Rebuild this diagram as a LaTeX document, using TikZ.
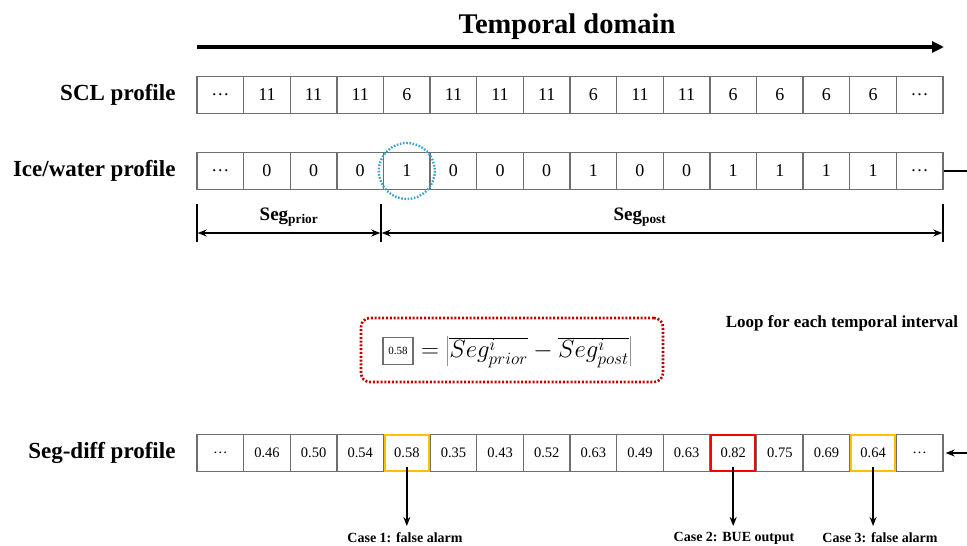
\documentclass[tikz,border=0pt]{standalone}
\usepackage{fontspec}
\setmainfont{Liberation Serif}
\usetikzlibrary{arrows.meta}
\definecolor{cellgray}{RGB}{110,110,110}
\definecolor{boxred}{RGB}{192,0,0}
\definecolor{circblue}{RGB}{60,165,205}
\definecolor{gold}{RGB}{255,192,0}
\definecolor{hired}{RGB}{255,0,0}
\begin{document}
\begin{tikzpicture}[x=1pt,y=-1pt,
  cell/.style={draw=cellgray, line width=1.3pt, minimum width=46.625pt, minimum height=37pt, inner sep=0pt, fill=white},
  rowlab/.style={anchor=east, font=\fontsize{23}{25}\selectfont\bfseries},
  valbig/.style={font=\fontsize{18}{20}\selectfont},
  valsmall/.style={font=\fontsize{14.5}{16}\selectfont},
  hilite/.style={draw=#1, line width=2pt, minimum width=44pt, minimum height=36pt, inner sep=0pt},
  caselab/.style={font=\fontsize{14}{16}\selectfont\bfseries},
  arr/.style={line width=1.6pt, -{Stealth[length=9pt,width=7pt]}},
  dimarr/.style={line width=1.4pt, {Stealth[length=9pt,width=7pt]}-{Stealth[length=9pt,width=7pt]}},
]
\useasboundingbox (0,0) rectangle (967,546);

% title and temporal arrow
\node[font=\fontsize{28.5}{30}\selectfont\bfseries] (title) at (567,27) {Temporal domain};
\coordinate (ta) at (197,47);
\coordinate (tb) at (944,47);
\draw[line width=3.2pt, -{Triangle[length=12pt,width=11pt]}] (ta) -- (tb);

% SCL profile
\node[rowlab] (lscl) at (179,95) {SCL profile};
\foreach \v [count=\i] in {\textellipsis,11,11,11,6,11,11,11,6,11,11,6,6,6,6,\textellipsis}
  \node[cell, valbig] (scl-\i) at ({197+46.625*(\i-0.5)},95) {\v};

% Ice/water profile
\node[rowlab] (lice) at (179,171) {Ice/water profile};
\foreach \v [count=\i] in {\textellipsis,0,0,0,1,0,0,0,1,0,0,1,1,1,1,\textellipsis}
  \node[cell, valbig] (ice-\i) at ({197+46.625*(\i-0.5)},171) {\v};
\draw[circblue, line width=2.4pt, dash pattern=on 1.6pt off 1.6pt] (ice-5.center) circle (28);
\coordinate (loopA) at (967,171);
\draw[line width=1.3pt] (ice-16.east) -- (loopA);

% segment brackets
\coordinate (s1t) at (197,204); \coordinate (s1b) at (197,242);
\coordinate (s2t) at (381,204); \coordinate (s2b) at (381,242);
\coordinate (s3t) at (943,204); \coordinate (s3b) at (943,242);
\draw[line width=1.4pt] (s1t) -- (s1b);
\draw[line width=1.4pt] (s2t) -- (s2b);
\draw[line width=1.4pt] (s3t) -- (s3b);
\coordinate (p1) at (197,233); \coordinate (p2) at (381,233); \coordinate (p3) at (943,233);
\draw[dimarr] ([xshift=0.7pt]p1) -- ([xshift=-0.7pt]p2);
\draw[dimarr] ([xshift=0.7pt]p2) -- ([xshift=-0.7pt]p3);
\node[font=\fontsize{19}{21}\selectfont\bfseries] (segprior) at (289,217) {Seg\textsubscript{prior}};
\node[font=\fontsize{19}{21}\selectfont\bfseries] (segpost) at (640,217) {Seg\textsubscript{post}};

% formula box
\node[draw=boxred, line width=2.6pt, dash pattern=on 2pt off 1.8pt, rounded corners=9pt, minimum width=302pt, minimum height=64pt] (fbox) at (512,350) {};
\node[draw=cellgray, line width=1.6pt, minimum width=30pt, minimum height=27pt, inner sep=0pt, font=\fontsize{11}{12}\selectfont] (v58) at (398,351) {0.58};
\node[anchor=west, font=\fontsize{25}{27}\selectfont, inner sep=0pt] (eq) at (421,352) {$= \left|\overline{Seg^{i}_{prior}} - \overline{Seg^{i}_{post}}\right|$};

\node[font=\fontsize{17}{19}\selectfont\bfseries] (loop) at (842,323) {Loop for each temporal interval};

% Seg-diff profile
\node[rowlab] (ldif) at (179,453) {Seg-diff profile};
\foreach \v [count=\i] in {\textellipsis,0.46,0.50,0.54,0.58,0.35,0.43,0.52,0.63,0.49,0.63,0.82,0.75,0.69,0.64,\textellipsis}
  \node[cell, valsmall] (dif-\i) at ({197+46.625*(\i-0.5)},453) {\v};
\node[hilite=gold] (h5) at (dif-5.center) {};
\node[hilite=hired] (h12) at (dif-12.center) {};
\node[hilite=gold] (h15) at (dif-15.center) {};
\coordinate (loopB) at (967,453);
\draw[arr] (loopB) -- ([xshift=2pt]dif-16.east);

% cases
\node[caselab] (c1) at (405,538) {Case 1: false alarm};
\node[caselab] (c2) at (734,538) {Case 2: BUE output};
\node[caselab] (c3) at (880,538) {Case 3: false alarm};
\draw[arr] ([yshift=5pt]dif-5.south) -- (dif-5.south |- 0,526);
\draw[arr] ([yshift=5pt]dif-12.south) -- (dif-12.south |- 0,526);
\draw[arr] ([yshift=5pt]dif-15.south) -- (dif-15.south |- 0,526);
\end{tikzpicture}
\end{document}
